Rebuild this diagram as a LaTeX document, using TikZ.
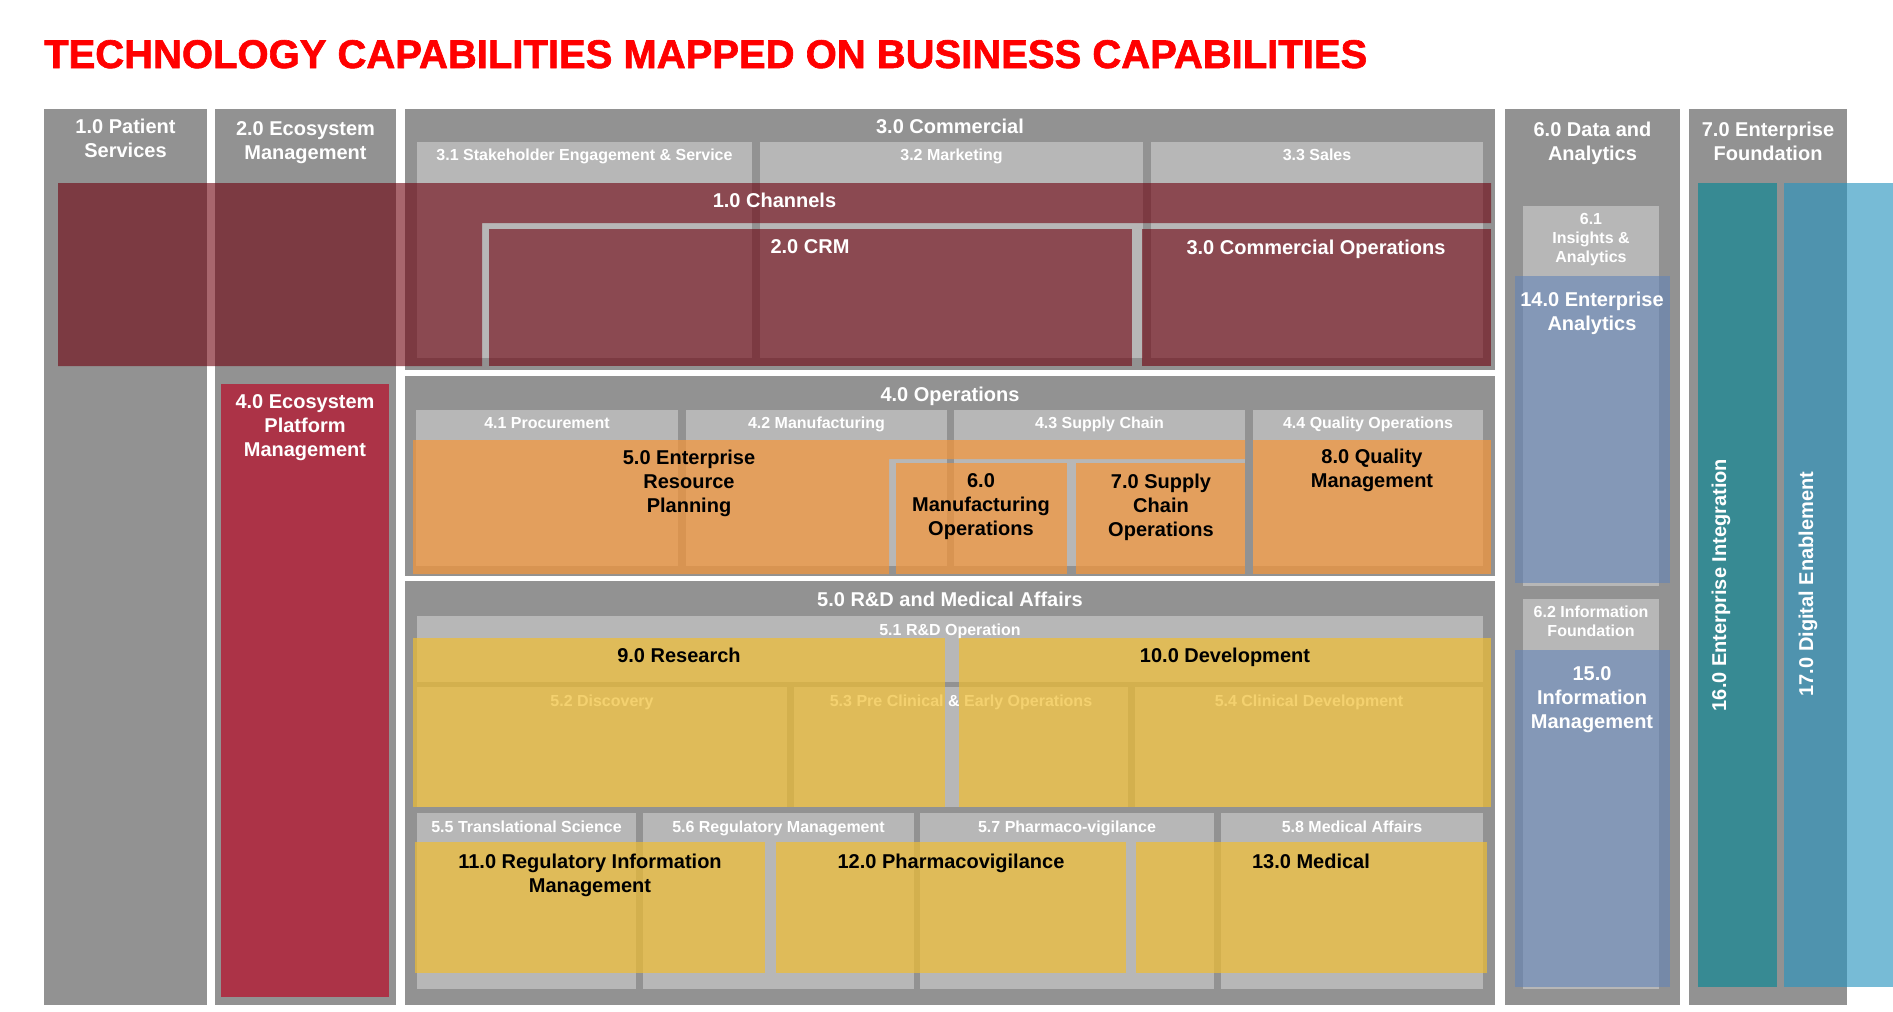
\documentclass[tikz,border=0pt]{standalone}
\usepackage{fontspec}
\setmainfont{Liberation Sans}
\newfontfamily\titlefont[FakeBold=1.6]{Liberation Sans Bold}
\definecolor{cgray}{RGB}{146,146,146}
\definecolor{clight}{RGB}{183,183,183}
\definecolor{ctitle}{RGB}{255,0,0}
\definecolor{cred}{RGB}{110,0,13}
\definecolor{ceco}{RGB}{172,51,71}
\definecolor{corange}{RGB}{246,150,56}
\definecolor{cyellow}{RGB}{240,190,50}
\definecolor{cblue}{RGB}{99,132,183}
\definecolor{cteal}{RGB}{55,138,147}
\definecolor{csky}{RGB}{40,148,191}
\newcommand\rbox[6]{\node[#1,anchor=north west,minimum width={(#4)-(#2)},minimum height={(#5)-(#3)}] (#6) at (#2,#3) {};}
\tikzset{
  plain/.style={draw=none,inner sep=0pt,outer sep=0pt,rectangle},
  colbg/.style={plain,fill=cgray},
  lbox/.style={plain,fill=clight},
  redov/.style={plain,fill=cred,fill opacity=0.6},
  ecobox/.style={plain,fill=ceco},
  orov/.style={plain,fill=corange,fill opacity=0.7},
  yelov/.style={plain,fill=cyellow,fill opacity=0.7},
  bluov/.style={plain,fill=cblue,fill opacity=0.6},
  tealbox/.style={plain,fill=cteal},
  skyov/.style={plain,fill=csky,fill opacity=0.63},
  hd/.style={inner sep=0pt,outer sep=0pt,anchor=north,align=center,text=white,
    font=\bfseries\fontsize{20}{24}\selectfont},
  hdk/.style={hd,text=black},
  sub/.style={inner sep=0pt,outer sep=0pt,anchor=north,align=center,text=white,
    font=\bfseries\fontsize{16}{19}\selectfont},
}
\begin{document}
\begin{tikzpicture}[x=1pt,y=-1pt]
\useasboundingbox (0,0) rectangle (1893,1012);
\fill[white] (0,0) rectangle (1893,1012);
% title
\node[inner sep=0pt,anchor=base west,text=ctitle,font=\titlefont\fontsize{40}{48}\selectfont] (title) at (44,68) {TECHNOLOGY CAPABILITIES MAPPED ON BUSINESS CAPABILITIES};
% business columns
\rbox{colbg}{44}{109}{207}{1005}{c1}
\rbox{colbg}{215}{109}{396}{1005}{c2}
\rbox{colbg}{405}{109}{1495}{370}{c3}
\rbox{colbg}{405}{376}{1495}{576}{c4}
\rbox{colbg}{405}{581}{1495}{1005}{c5}
\rbox{colbg}{1505}{109}{1680}{1005}{c6}
\rbox{colbg}{1689}{109}{1847}{1005}{c7}
% light sub boxes
\rbox{lbox}{417}{142}{752}{358}{b31}
\rbox{lbox}{760}{142}{1143}{358}{b32}
\rbox{lbox}{1151}{142}{1483}{358}{b33}
\rbox{lbox}{416}{410}{678}{566}{b41}
\rbox{lbox}{686}{410}{947}{566}{b42}
\rbox{lbox}{954}{410}{1245}{566}{b43}
\rbox{lbox}{1253}{410}{1483}{566}{b44}
\rbox{lbox}{417}{616}{1483}{682}{b51}
\rbox{lbox}{417}{687}{787}{807}{b52}
\rbox{lbox}{794}{687}{1128}{807}{b53}
\rbox{lbox}{1135}{687}{1483}{807}{b54}
\rbox{lbox}{417}{813}{636}{989}{b55}
\rbox{lbox}{643}{813}{914}{989}{b56}
\rbox{lbox}{920}{813}{1214}{989}{b57}
\rbox{lbox}{1221}{813}{1483}{989}{b58}
\rbox{lbox}{1523}{206}{1659}{586}{b61}
\rbox{lbox}{1523}{599}{1659}{989}{b62}
% business headings
\node[hd] (t1) at (125.5,118.6) {1.0 Patient\\Services};
\node[hd] (t2) at (305.5,121.6) {2.0 Ecosystem\\Management};
\node[hd] (t3) at (950,118.6) {3.0 Commercial};
\node[hd] (t4) at (950,386.6) {4.0 Operations};
\node[hd] (t5) at (950,591.6) {5.0 R\&D and Medical Affairs};
\node[hd] (t6) at (1592.5,121.6) {6.0 Data and\\Analytics};
\node[hd] (t7) at (1768,121.6) {7.0 Enterprise\\Foundation};
% sub labels
\node[sub] (l31) at (584.5,149.1) {3.1 Stakeholder Engagement \& Service};
\node[sub] (l32) at (951.5,149.1) {3.2 Marketing};
\node[sub] (l33) at (1317,149.1) {3.3 Sales};
\node[sub] (l41) at (547,417.1) {4.1 Procurement};
\node[sub] (l42) at (816.5,417.1) {4.2 Manufacturing};
\node[sub] (l43) at (1099.5,417.1) {4.3 Supply Chain};
\node[sub] (l44) at (1368,417.1) {4.4 Quality Operations};
\node[sub] (l51) at (950,624.1) {5.1 R\&D Operation};
\node[sub] (l52) at (602,695.1) {5.2 Discovery};
\node[sub] (l53) at (961,695.1) {5.3 Pre Clinical \& Early Operations};
\node[sub] (l54) at (1309,695.1) {5.4 Clinical Development};
\node[sub] (l55) at (526.5,821.1) {5.5 Translational Science};
\node[sub] (l56) at (778.5,821.1) {5.6 Regulatory Management};
\node[sub] (l57) at (1067,821.1) {5.7 Pharmaco-vigilance};
\node[sub] (l58) at (1352,821.1) {5.8 Medical Affairs};
\node[sub] (l61) at (1591,213.1) {6.1\\Insights \&\\Analytics};
\node[sub] (l62) at (1591,606.1) {6.2 Information\\Foundation};
% technology overlays
\fill[cred,fill opacity=0.6] (58,183) -- (1491,183) -- (1491,223) -- (482,223) -- (482,366) -- (58,366) -- cycle;
\rbox{redov}{489}{229}{1132}{366}{crm}
\rbox{redov}{1142}{229}{1491}{366}{comops}
\rbox{ecobox}{221}{384}{389}{997}{eco}
\fill[corange,fill opacity=0.7] (413,440) -- (1245,440) -- (1245,459) -- (889,459) -- (889,574) -- (413,574) -- cycle;
\rbox{orov}{896}{463}{1067}{574}{mfg}
\rbox{orov}{1076}{463}{1245}{574}{scm}
\rbox{orov}{1253}{440}{1491}{574}{qm}
\rbox{yelov}{413}{638}{945}{807}{res}
\rbox{yelov}{959}{638}{1491}{807}{dev}
\rbox{yelov}{415}{842}{765}{973}{rim}
\rbox{yelov}{776}{842}{1126}{973}{pv}
\rbox{yelov}{1136}{842}{1487}{973}{med}
\rbox{bluov}{1515}{276}{1670}{583}{ea}
\rbox{bluov}{1515}{650}{1670}{987}{im}
\rbox{tealbox}{1698}{183}{1777}{987}{ei}
\rbox{skyov}{1784}{183}{1893}{987}{de}
% technology labels
\node[hd] (tch) at (774.5,192.6) {1.0 Channels};
\node[hd] (tcrm) at (810,239.6) {2.0 CRM};
\node[hd] (tco) at (1316,239.6) {3.0 Commercial Operations};
\node[hd] (teco) at (305,394.6) {4.0 Ecosystem\\Platform\\Management};
\node[hdk] (terp) at (689,449.6) {5.0 Enterprise\\Resource\\Planning};
\node[hdk] (tmfg) at (981,473.6) {6.0\\Manufacturing\\Operations};
\node[hdk] (tscm) at (1161,473.6) {7.0 Supply\\Chain\\Operations};
\node[hdk] (tqm) at (1372,448.6) {8.0 Quality\\Management};
\node[hdk] (tres) at (679,647.6) {9.0 Research};
\node[hdk] (tdev) at (1225,647.6) {10.0 Development};
\node[hdk] (trim) at (590,853.6) {11.0 Regulatory Information\\Management};
\node[hdk] (tpv) at (951,853.6) {12.0 Pharmacovigilance};
\node[hdk] (tmed) at (1311,853.6) {13.0 Medical};
\node[hd] (tea) at (1592,291.6) {14.0 Enterprise\\Analytics};
\node[hd] (tim) at (1592,666.6) {15.0\\Information\\Management};
\node[hd,anchor=center,rotate=90] (tei) at (1721,585) {16.0 Enterprise Integration};
\node[hd,anchor=center,rotate=90] (tde) at (1808,584) {17.0 Digital Enablement};
\end{tikzpicture}
\end{document}
